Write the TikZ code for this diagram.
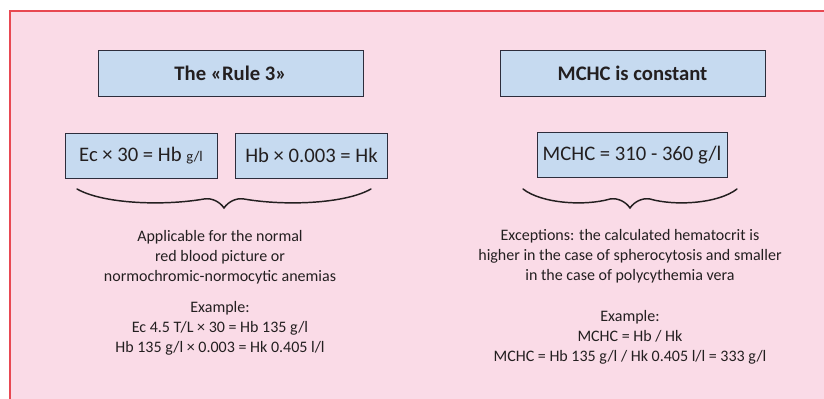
\documentclass[tikz,border=0pt]{standalone}
\usepackage{fontspec}
\setmainfont{Carlito}
\usepackage{tikz}
\usetikzlibrary{positioning}

\definecolor{panelpink}{RGB}{250,219,231}
\definecolor{panelred}{RGB}{232,72,82}
\definecolor{boxblue}{RGB}{198,218,240}
\definecolor{boxline}{RGB}{45,45,60}
\definecolor{inkgray}{RGB}{35,31,32}

\tikzset{
	titlebox/.style={draw=boxline, fill=boxblue, line width=0.6pt, minimum width=198.75pt, minimum height=34.5pt, inner sep=0pt, font=\fontsize{15.5}{17}\selectfont\bfseries, text=inkgray},
	formulabox/.style={draw=boxline, fill=boxblue, line width=0.6pt, minimum width=114pt, minimum height=33.75pt, inner sep=0pt, font=\fontsize{15.5}{17}\selectfont, text=inkgray},
	bodytext/.style={align=center, inner sep=0pt, font=\fontsize{12}{15}\selectfont, text=inkgray},
	curly/.pic={
		\draw[line width=1.1pt, line cap=round, inkgray] (-#1,-19) .. controls (-0.82*#1,-4) and (-0.41*#1,-2) .. (-20,-9) .. controls (-12,-10.4) and (-4,-6) .. (0,0) .. controls (4,-6) and (12,-10.4) .. (20,-9) .. controls (0.41*#1,-2) and (0.82*#1,-4) .. (#1,-19);
	}
}

\begin{document}
\begin{tikzpicture}[x=0.75pt,y=-0.75pt]
				\useasboundingbox (0,0) rectangle (824,399);
				% panel
				\fill[panelpink] (10,11) rectangle (824,399);
				\draw[panelred, line width=1.3pt] (10,399) -- (10,11) -- (824,11);

				% left column
				\node[titlebox] (ruleTitle) at (230.5,73) {The «Rule 3»};
				\node[formulabox] (ecBox) at (141,155.5) {Ec × 30 = Hb {\fontsize{11}{12}\selectfont g/l}};
				\node[formulabox] (hbBox) at (311.5,155.5) {Hb × 0.003 = Hk};
				\coordinate []  (braceL) at (224,208) ;
				\pic at (braceL) {curly=147};
				\node[bodytext] (noteL) at (220,257) {Applicable for the normal\\red blood picture or\\normochromic-normocytic anemias};
				\node[bodytext] (exampleL) at (220,328) {Example:\\Ec 4.5 T/L × 30 = Hb 135 g/l\\Hb 135 g/l × 0.003 = Hk 0.405 l/l};

				% right column
				\node[titlebox] (mchcTitle) at (632.5,73) {MCHC is constant};
				\node[formulabox, minimum width=142.5pt] (mchcBox) at (632,155) {MCHC = 310 - 360 g/l};
				\coordinate []  (braceR) at (630,208) ;
				\pic at (braceR) {curly=107};
				\node[bodytext] (noteR) at (630,256) {Exceptions: the calculated hematocrit is\\higher in the case of spherocytosis and smaller\\in the case of polycythemia vera};
				\node[bodytext] (exampleR) at (630,337) {Example:\\MCHC = Hb / Hk\\MCHC = Hb 135 g/l / Hk 0.405 l/l = 333 g/l};
\end{tikzpicture}
\end{document}
